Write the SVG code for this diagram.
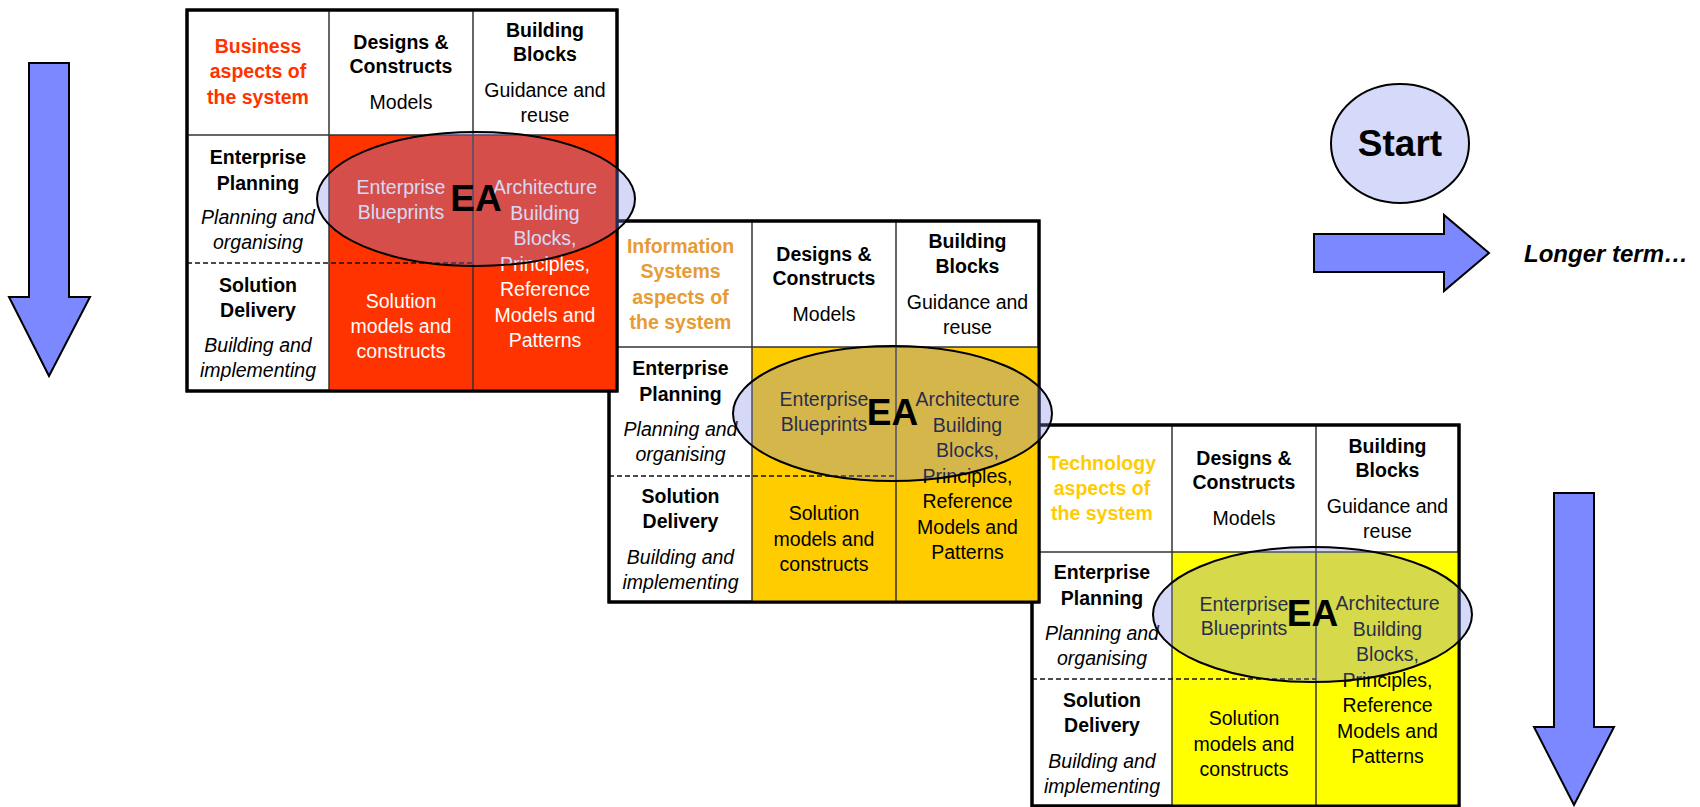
<svg xmlns="http://www.w3.org/2000/svg" width="1700" height="807" viewBox="0 0 1700 807">
<style>
text{font-family:"Liberation Sans",Arial,sans-serif;font-size:19.5px;text-anchor:middle;fill:#000}
.b{font-weight:bold}
.i{font-style:italic}
.w{fill:#fff}
.outer{fill:#fff;stroke:#000;stroke-width:3}
.ln{stroke:#333;stroke-width:1.5;fill:none}
.dash{stroke:#111;stroke-width:1.5;stroke-dasharray:5 3;fill:none}
.ov{fill:#7B88E6;fill-opacity:0.32;stroke:#000;stroke-width:2}
.ea{font-weight:bold;font-size:37px}
.arrow{fill:#7B88FF;stroke:#000;stroke-width:2;stroke-linejoin:miter}
</style>
<rect width="1700" height="807" fill="#fff"/>

<g id="connectors">
  <polygon class="arrow" points="29,63 69,63 69,297 90,297 49,376 9,297 29,297"/>
  <polygon class="arrow" points="1554,493 1594,493 1594,727 1614,727 1574,805 1534,727 1554,727"/>
  <polygon class="arrow" points="1314,234 1444,234 1444,215 1489,253 1444,291 1444,272 1314,272"/>
</g>

<g id="start">
  <ellipse cx="1400" cy="143.5" rx="69" ry="59.5" fill="#D6DAFA" stroke="#000" stroke-width="2"/>
  <text x="1400" y="156" class="b" style="font-size:37px">Start</text>
</g>

<g id="longer-term">
  <text x="1524" y="262" class="b i" style="font-size:24px;text-anchor:start">Longer term…</text>
</g>

<!-- Matrix 3: Technology -->
<g id="matrix-technology">
  <rect class="outer" x="1032" y="425" width="427" height="381"/>
  <rect x="1172" y="552" width="287" height="254" fill="#FFFF00"/>
  <line class="ln" x1="1172" y1="425" x2="1172" y2="806"/>
  <line class="ln" x1="1316" y1="425" x2="1316" y2="806"/>
  <line class="ln" x1="1032" y1="552" x2="1459" y2="552"/>
  <line class="dash" x1="1032" y1="679" x2="1316" y2="679"/>
  <rect x="1032" y="425" width="427" height="381" fill="none" stroke="#000" stroke-width="3"/>
  <text class="b" fill="#FFCC00" style="fill:#FFCC00"><tspan x="1102" y="470">Technology</tspan><tspan x="1102" y="495">aspects of</tspan><tspan x="1102" y="520">the system</tspan></text>
  <text class="b"><tspan x="1244" y="464.5">Designs &amp;</tspan><tspan x="1244" y="489">Constructs</tspan></text>
  <text x="1244" y="525">Models</text>
  <text class="b"><tspan x="1387.5" y="453">Building</tspan><tspan x="1387.5" y="477">Blocks</tspan></text>
  <text><tspan x="1387.5" y="513">Guidance and</tspan><tspan x="1387.5" y="538">reuse</tspan></text>
  <text class="b"><tspan x="1102" y="579">Enterprise</tspan><tspan x="1102" y="605">Planning</tspan></text>
  <text class="i"><tspan x="1102" y="640">Planning and</tspan><tspan x="1102" y="665">organising</tspan></text>
  <text class="b"><tspan x="1102" y="707">Solution</tspan><tspan x="1102" y="732">Delivery</tspan></text>
  <text class="i"><tspan x="1102" y="768">Building and</tspan><tspan x="1102" y="793">implementing</tspan></text>
  <text><tspan x="1244" y="611">Enterprise</tspan><tspan x="1244" y="635">Blueprints</tspan></text>
  <text><tspan x="1387.5" y="610">Architecture</tspan><tspan x="1387.5" y="636">Building</tspan><tspan x="1387.5" y="661">Blocks,</tspan><tspan x="1387.5" y="686.5">Principles,</tspan><tspan x="1387.5" y="712">Reference</tspan><tspan x="1387.5" y="737.5">Models and</tspan><tspan x="1387.5" y="763">Patterns</tspan></text>
  <text><tspan x="1244" y="725">Solution</tspan><tspan x="1244" y="750.5">models and</tspan><tspan x="1244" y="776">constructs</tspan></text>
  <ellipse class="ov" cx="1312.5" cy="614.5" rx="159.5" ry="67.5"/>
  <text class="ea" x="1312.5" y="626">EA</text>
</g>

<!-- Matrix 2: Information Systems -->
<g id="matrix-information-systems">
  <rect class="outer" x="609" y="221" width="430" height="381"/>
  <rect x="752" y="347" width="287" height="255" fill="#FFCC00"/>
  <line class="ln" x1="752" y1="221" x2="752" y2="602"/>
  <line class="ln" x1="896" y1="221" x2="896" y2="602"/>
  <line class="ln" x1="609" y1="347" x2="1039" y2="347"/>
  <line class="dash" x1="609" y1="476" x2="896" y2="476"/>
  <rect x="609" y="221" width="430" height="381" fill="none" stroke="#000" stroke-width="3"/>
  <text class="b" style="fill:#E69B35"><tspan x="680.5" y="253">Information</tspan><tspan x="680.5" y="278">Systems</tspan><tspan x="680.5" y="303.5">aspects of</tspan><tspan x="680.5" y="329">the system</tspan></text>
  <text class="b"><tspan x="824" y="260.5">Designs &amp;</tspan><tspan x="824" y="285">Constructs</tspan></text>
  <text x="824" y="321">Models</text>
  <text class="b"><tspan x="967.5" y="248">Building</tspan><tspan x="967.5" y="272.5">Blocks</tspan></text>
  <text><tspan x="967.5" y="309">Guidance and</tspan><tspan x="967.5" y="334">reuse</tspan></text>
  <text class="b"><tspan x="680.5" y="375">Enterprise</tspan><tspan x="680.5" y="401">Planning</tspan></text>
  <text class="i"><tspan x="680.5" y="436">Planning and</tspan><tspan x="680.5" y="461">organising</tspan></text>
  <text class="b"><tspan x="680.5" y="503">Solution</tspan><tspan x="680.5" y="528">Delivery</tspan></text>
  <text class="i"><tspan x="680.5" y="564">Building and</tspan><tspan x="680.5" y="589">implementing</tspan></text>
  <text><tspan x="824" y="406">Enterprise</tspan><tspan x="824" y="431">Blueprints</tspan></text>
  <text><tspan x="967.5" y="406">Architecture</tspan><tspan x="967.5" y="431.5">Building</tspan><tspan x="967.5" y="457">Blocks,</tspan><tspan x="967.5" y="482.5">Principles,</tspan><tspan x="967.5" y="508">Reference</tspan><tspan x="967.5" y="533.5">Models and</tspan><tspan x="967.5" y="559">Patterns</tspan></text>
  <text><tspan x="824" y="520">Solution</tspan><tspan x="824" y="545.5">models and</tspan><tspan x="824" y="571">constructs</tspan></text>
  <ellipse class="ov" cx="892.5" cy="413.5" rx="159.5" ry="67.5"/>
  <text class="ea" x="892.5" y="425">EA</text>
</g>

<!-- Matrix 1: Business -->
<g id="matrix-business">
  <rect class="outer" x="187" y="10" width="430" height="381"/>
  <rect x="329" y="135" width="288" height="256" fill="#FF3300"/>
  <line class="ln" x1="329" y1="10" x2="329" y2="391"/>
  <line class="ln" x1="473" y1="10" x2="473" y2="391"/>
  <line class="ln" x1="187" y1="135" x2="617" y2="135"/>
  <line class="dash" x1="187" y1="263" x2="473" y2="263"/>
  <rect x="187" y="10" width="430" height="381" fill="none" stroke="#000" stroke-width="3"/>
  <text class="b" style="fill:#FF3300"><tspan x="258" y="53">Business</tspan><tspan x="258" y="78">aspects of</tspan><tspan x="258" y="104">the system</tspan></text>
  <text class="b"><tspan x="401" y="49">Designs &amp;</tspan><tspan x="401" y="73">Constructs</tspan></text>
  <text x="401" y="109">Models</text>
  <text class="b"><tspan x="545" y="37">Building</tspan><tspan x="545" y="61">Blocks</tspan></text>
  <text><tspan x="545" y="97">Guidance and</tspan><tspan x="545" y="122">reuse</tspan></text>
  <text class="b"><tspan x="258" y="164">Enterprise</tspan><tspan x="258" y="190">Planning</tspan></text>
  <text class="i"><tspan x="258" y="224">Planning and</tspan><tspan x="258" y="249">organising</tspan></text>
  <text class="b"><tspan x="258" y="292">Solution</tspan><tspan x="258" y="317">Delivery</tspan></text>
  <text class="i"><tspan x="258" y="352">Building and</tspan><tspan x="258" y="377">implementing</tspan></text>
  <text class="w"><tspan x="401" y="194">Enterprise</tspan><tspan x="401" y="219">Blueprints</tspan></text>
  <text class="w"><tspan x="545" y="194">Architecture</tspan><tspan x="545" y="220">Building</tspan><tspan x="545" y="245">Blocks,</tspan><tspan x="545" y="270.5">Principles,</tspan><tspan x="545" y="296">Reference</tspan><tspan x="545" y="321.5">Models and</tspan><tspan x="545" y="347">Patterns</tspan></text>
  <text class="w"><tspan x="401" y="308">Solution</tspan><tspan x="401" y="333">models and</tspan><tspan x="401" y="358">constructs</tspan></text>
  <ellipse class="ov" cx="476" cy="199" rx="159" ry="67"/>
  <text class="ea" x="476" y="211">EA</text>
</g>
</svg>
